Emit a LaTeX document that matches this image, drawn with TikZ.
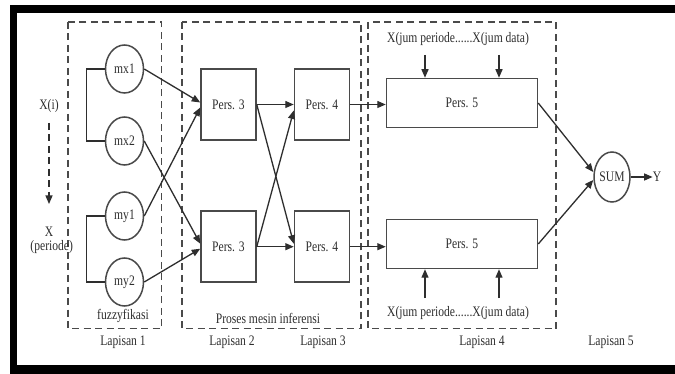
\documentclass[tikz,border=0pt]{standalone}
\usepackage{fontspec}
\setmainfont{Liberation Serif}[FakeStretch=0.8]
\usetikzlibrary{arrows.meta,shapes.geometric}
\definecolor{ink}{HTML}{2E2E2E}
\definecolor{edge}{HTML}{4A4A4A}
\begin{document}
\begin{tikzpicture}[x=1pt,y=-1pt,
  font=\fontsize{14.5}{16}\selectfont, text=ink,
  unit/.style={ellipse, draw=edge, line width=1.5pt, minimum width=38pt, minimum height=48pt, inner sep=0pt},
  proc/.style={rectangle, draw=edge, line width=1.5pt, minimum width=55pt, minimum height=71pt, inner sep=0pt},
  wide/.style={rectangle, draw=edge, line width=1.5pt, minimum width=151pt, minimum height=49pt, inner sep=0pt},
  grp/.style={draw=edge, line width=1.4pt, dash pattern=on 7pt off 4.5pt},
  arr/.style={draw=ink, line width=1.3pt, -{Triangle[length=8.5pt,width=7pt]}},
  link/.style={draw=ink, line width=1.3pt},
  lbl/.style={inner sep=0pt}]

\useasboundingbox (0,0) rectangle (675,374);
\fill[white] (0,0) rectangle (675,374);
% heavy black frame
\fill[black] (9.5,5) rectangle (675,374);
\fill[white] (17,13) rectangle (675,365);

% layer groupings
\draw[grp] (68,22) rectangle (161.7,328.5);
\draw[grp] (182,22) rectangle (361,328.5);
\draw[grp] (368,22) rectangle (556,328.5);

% input axis
\node[lbl] (xi) at (49,106) {X(i)};
\node[lbl] (xp) at (49,232) {X};
\node[lbl] (per) at (51.7,247) {(periode)};
\coordinate (xend) at (49,204);
\draw[arr, dash pattern=on 7pt off 4.5pt] ([yshift=-10pt]xi.south) -- (xend);

% fuzzification units
\node[unit] (mx1) at (124.5,69) {mx1};
\node[unit] (mx2) at (124.5,141) {mx2};
\node[unit] (my1) at (124.5,216) {my1};
\node[unit] (my2) at (124.5,282) {my2};
\draw[link] (mx1.west) -- ++(-18.5,0) |- (mx2.west);
\draw[link] (my1.west) -- ++(-18.5,0) |- (my2.west);

% inference
\node[proc] (p3a) at (228.5,104.5) {Pers. 3};
\node[proc] (p3b) at (228.5,246.7) {Pers. 3};
\node[proc] (p4a) at (322,104.5) {Pers. 4};
\node[proc] (p4b) at (322,246.7) {Pers. 4};

% layer 4
\node[wide] (p5a) at (462,103) {Pers. 5};
\node[wide] (p5b) at (462,244) {Pers. 5};

% output
\node[unit, minimum width=36pt, minimum height=50pt] (sum) at (612,177) {SUM};
\node[lbl] (y) at (657,177) {Y};

% fuzzification to inference
\draw[arr] (mx1.east) -- ([yshift=2pt]p3a.west);
\draw[arr] (my1.east) -- ([yshift=-3pt]p3a.west);
\draw[arr] (mx2.east) -- ([yshift=3pt]p3b.west);
\draw[arr] (my2.east) -- ([yshift=-2pt]p3b.west);

% inference links
\draw[arr] (p3a.east) -- (p4a.west);
\draw[arr] (p3a.east) -- ([yshift=3pt]p4b.west);
\draw[arr] (p3b.east) -- ([yshift=-6pt]p4a.west);
\draw[arr] (p3b.east) -- (p4b.west);

\draw[arr] (p4a.east) -- (p4a.east -| p5a.west);
\draw[arr] (p4b.east) -- (p4b.east -| p5b.west);

\draw[arr] (p5a.east) -- ([yshift=5pt]sum.west);
\draw[arr] (p5b.east) -- ([yshift=-3pt]sum.west);
\draw[arr] (sum.east) -- (y.west);

% data inputs
\node[lbl] (topin) at (458,39) {X(jum periode......X(jum data)};
\node[lbl] (botin) at (458,313) {X(jum periode......X(jum data)};
\coordinate (t1) at (425,55);
\coordinate (t2) at (499,55);
\coordinate (b1) at (425,298);
\coordinate (b2) at (499,298);
\draw[arr] (t1) -- (t1 |- p5a.north);
\draw[arr] (t2) -- (t2 |- p5a.north);
\draw[arr] (b1) -- (b1 |- p5b.south);
\draw[arr] (b2) -- (b2 |- p5b.south);

% captions
\node[lbl] (fz) at (123,316) {fuzzyfikasi};
\node[lbl] (pm) at (268,318) {Proses mesin inferensi};
\node[lbl] (l1) at (123,342) {Lapisan 1};
\node[lbl] (l2) at (232,342) {Lapisan 2};
\node[lbl] (l3) at (323,342) {Lapisan 3};
\node[lbl] (l4) at (482,342) {Lapisan 4};
\node[lbl] (l5) at (611,342) {Lapisan 5};
\end{tikzpicture}
\end{document}
